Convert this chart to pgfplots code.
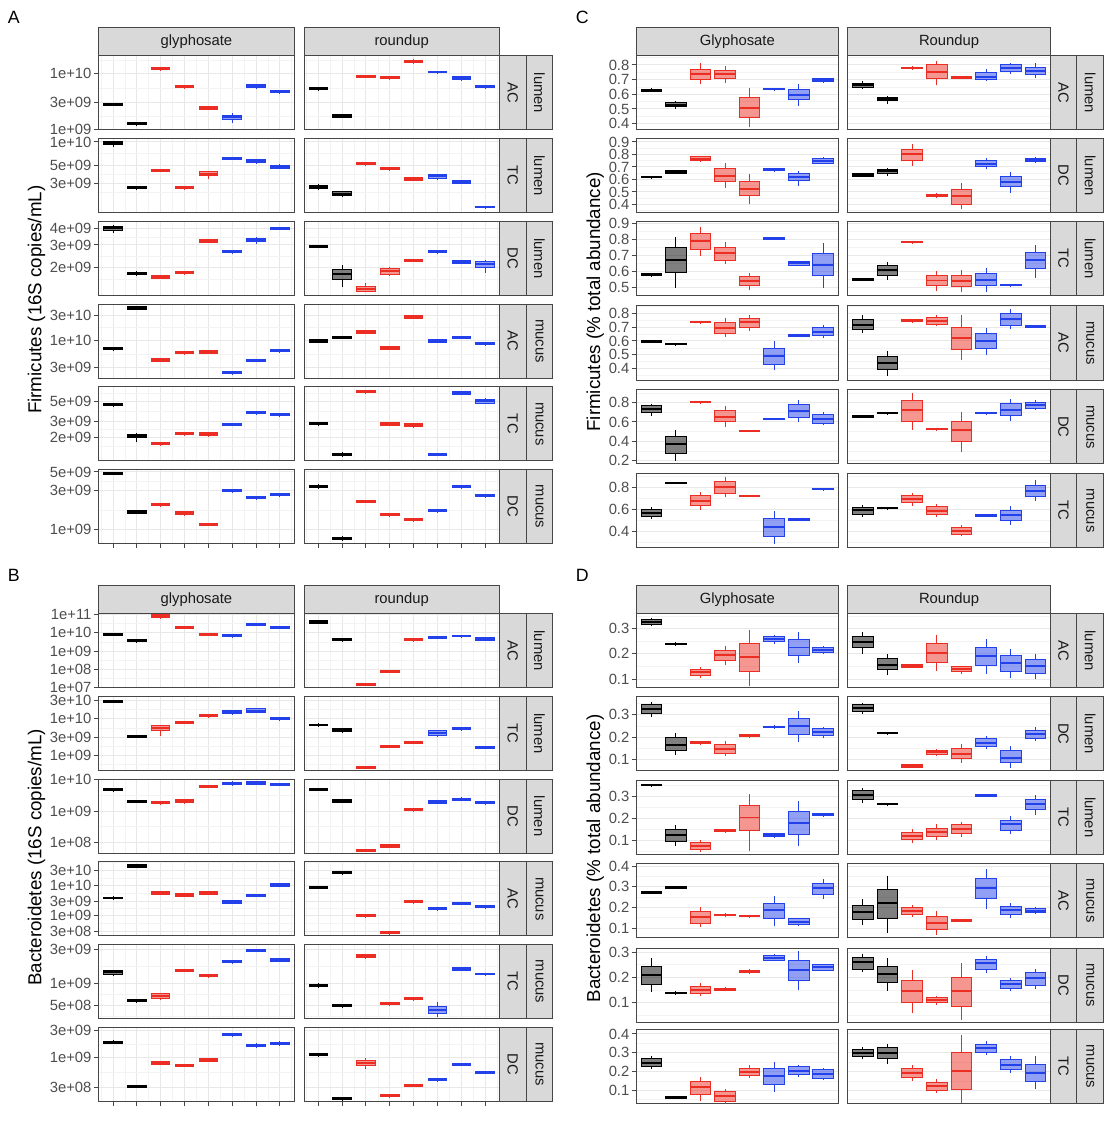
\documentclass[border=0pt]{standalone}
\usepackage{fontspec}
\setmainfont{Liberation Sans}
\usepackage{pgfplots}
\pgfplotsset{compat=1.18}

\definecolor{cK}{RGB}{0,0,0}
\definecolor{cR}{RGB}{235,45,35}
\definecolor{cB}{RGB}{35,65,235}
\colorlet{c1}{cK}\colorlet{c2}{cK}
\colorlet{c3}{cR}\colorlet{c4}{cR}\colorlet{c5}{cR}
\colorlet{c6}{cB}\colorlet{c7}{cB}\colorlet{c8}{cB}
\definecolor{gborder}{RGB}{70,70,70}
\definecolor{gstrip}{RGB}{217,217,217}
\definecolor{gtext}{RGB}{77,77,77}
\definecolor{ggrid}{RGB}{232,232,232}
\definecolor{ggridm}{RGB}{243,243,243}

\tikzset{
  strip/.style={draw=gborder, fill=gstrip, line width=0.5pt},
  striptext/.style={font=\fontsize{7.5}{8}\selectfont, text=black!90, inner sep=0pt},
}

% half width of a box, in category units
\def\bxw{0.39}
% one box: position, lower whisker, lower quartile, median, upper quartile, upper whisker
\newcommand\bx[6]{%
  \pgfmathsetmacro\bxl{#1-\bxw}\pgfmathsetmacro\bxr{#1+\bxw}%
  \addplot[draw=c#1,mark=none,line width=0.5pt] coordinates {(#1,#2) (#1,#3)};
  \addplot[draw=c#1,mark=none,line width=0.5pt] coordinates {(#1,#5) (#1,#6)};
  \addplot[draw=c#1,fill=c#1,fill opacity=0.5,mark=none,line width=0.5pt] coordinates {(\bxl,#3) (\bxr,#3) (\bxr,#5) (\bxl,#5)} --cycle;
  \addplot[draw=c#1,mark=none,line width=1pt] coordinates {(\bxl,#4) (\bxr,#4)};}

% log panel: row options, extra options, left (pt), top (pt), width (pt), boxes
\newcommand\lfacet[6]{\begin{axis}[ymode=log,
  scale only axis, anchor=north west, height=37.5pt,
  xmin=0.4, xmax=8.6, xtick={1,...,8}, xticklabels={}, xtick style={draw=none},
  ytick pos=left, tick align=outside, major tick length=2.5pt, minor tick length=0pt,
  axis line style={draw=gborder,line width=0.5pt}, ytick style={draw=gborder,line width=0.5pt},
  major grid style={draw=ggrid,line width=0.5pt}, minor grid style={draw=ggridm,line width=0.3pt},
  tick label style={font=\fontsize{7.5}{8}\selectfont,text=gtext}, yticklabel style={inner sep=1pt},
  xmajorgrids, ymajorgrids, xminorgrids, yminorgrids, minor xtick={0.5,1.5,...,8.5},
  #1, #2, at={(#3pt,-#4pt)}, width=#5pt]#6\end{axis}}
% linear panel: same arguments
\newcommand\nfacet[6]{\begin{axis}[
  scale only axis, anchor=north west, height=37.5pt,
  xmin=0.4, xmax=8.6, xtick={1,...,8}, xticklabels={}, xtick style={draw=none},
  ytick pos=left, tick align=outside, major tick length=2.5pt, minor tick length=0pt,
  axis line style={draw=gborder,line width=0.5pt}, ytick style={draw=gborder,line width=0.5pt},
  major grid style={draw=ggrid,line width=0.5pt}, minor grid style={draw=ggridm,line width=0.3pt},
  tick label style={font=\fontsize{7.5}{8}\selectfont,text=gtext}, yticklabel style={inner sep=1pt},
  ymajorgrids, yminorgrids,
  #1, #2, at={(#3pt,-#4pt)}, width=#5pt]#6\end{axis}}

% header strip: left, right, top, label
\newcommand\hst[4]{%
  \draw[strip] (#1pt,-#3pt) rectangle (#2pt,{-(#3+14.2)*1pt});
  \node[striptext] at ({(#1+#2)/2*1pt},{-(#3+7.1)*1pt}) {#4};}
% two side strips: x0, x1, x2, top, inner label, outer label
\newcommand\sst[6]{%
  \draw[strip] (#1pt,-#4pt) rectangle (#2pt,{-(#4+37.5)*1pt});
  \draw[strip] (#2pt,-#4pt) rectangle (#3pt,{-(#4+37.5)*1pt});
  \node[striptext,rotate=-90] at ({(#1+#2)/2*1pt},{-(#4+18.75)*1pt}) {#5};
  \node[striptext,rotate=-90] at ({(#2+#3)/2*1pt},{-(#4+18.75)*1pt}) {#6};}

\begin{document}
\begin{tikzpicture}
\path (0pt,0pt) rectangle (561pt,-559pt);

% ===================== A: Firmicutes (16S copies/mL) =====================
\lfacet{ymin=9.73e8,ymax=2.07e10,ytick={1e9,3e9,1e10},yticklabels={1e+09,3e+09,1e+10},minor ytick={1.73e9,5.48e9,1.73e10}}{}{50}{28.35}{99}{
\bx{1}{2.62e9}{2.68e9}{2.79e9}{2.91e9}{2.97e9}
\bx{2}{1.15e9}{1.23e9}{1.28e9}{1.33e9}{1.36e9}
\bx{3}{1.16e10}{1.18e10}{1.23e10}{1.28e10}{1.31e10}
\bx{4}{5.45e9}{5.55e9}{5.78e9}{6.02e9}{6.13e9}
\bx{5}{2.22e9}{2.27e9}{2.40e9}{2.53e9}{2.60e9}
\bx{6}{1.28e9}{1.49e9}{1.64e9}{1.80e9}{1.93e9}
\bx{7}{5.20e9}{5.55e9}{5.94e9}{6.36e9}{6.60e9}
\bx{8}{4.45e9}{4.52e9}{4.71e9}{4.91e9}{4.98e9}}
\lfacet{ymin=9.73e8,ymax=2.07e10,ytick={1e9,3e9,1e10},minor ytick={1.73e9,5.48e9,1.73e10}}{yticklabels={},ytick style={draw=none}}{154}{28.35}{99}{
\bx{1}{5.00e9}{5.10e9}{5.32e9}{5.54e9}{5.65e9}
\bx{2}{1.62e9}{1.66e9}{1.75e9}{1.85e9}{1.90e9}
\bx{3}{8.45e9}{8.60e9}{8.96e9}{9.33e9}{9.50e9}
\bx{4}{8.00e9}{8.15e9}{8.49e9}{8.85e9}{9.00e9}
\bx{5}{1.53e10}{1.57e10}{1.66e10}{1.75e10}{1.80e10}
\bx{6}{1.01e10}{1.03e10}{1.07e10}{1.11e10}{1.13e10}
\bx{7}{7.60e9}{7.82e9}{8.37e9}{8.96e9}{9.20e9}
\bx{8}{5.45e9}{5.55e9}{5.78e9}{6.02e9}{6.13e9}}
\lfacet{ymin=1.26e9,ymax=1.10e10,ytick={3e9,5e9,1e10},yticklabels={3e+09,5e+09,1e+10},minor ytick={2.32e9,3.87e9,7.07e9}}{}{50}{70.25}{99}{
\bx{1}{8.65e9}{9.26e9}{9.71e9}{1.02e10}{1.04e10}
\bx{2}{2.49e9}{2.53e9}{2.60e9}{2.68e9}{2.72e9}
\bx{3}{4.15e9}{4.21e9}{4.33e9}{4.46e9}{4.52e9}
\bx{4}{2.49e9}{2.53e9}{2.60e9}{2.68e9}{2.72e9}
\bx{5}{3.40e9}{3.71e9}{3.93e9}{4.16e9}{4.25e9}
\bx{6}{5.92e9}{6.00e9}{6.18e9}{6.36e9}{6.45e9}
\bx{7}{5.30e9}{5.45e9}{5.72e9}{6.00e9}{6.15e9}
\bx{8}{4.50e9}{4.62e9}{4.85e9}{5.09e9}{5.20e9}}
\lfacet{ymin=1.26e9,ymax=1.10e10,ytick={3e9,5e9,1e10},minor ytick={2.32e9,3.87e9,7.07e9}}{yticklabels={},ytick style={draw=none}}{154}{70.25}{99}{
\bx{1}{2.45e9}{2.55e9}{2.67e9}{2.80e9}{2.90e9}
\bx{2}{2.00e9}{2.08e9}{2.20e9}{2.33e9}{2.40e9}
\bx{3}{5.03e9}{5.10e9}{5.25e9}{5.40e9}{5.48e9}
\bx{4}{4.35e9}{4.41e9}{4.54e9}{4.67e9}{4.74e9}
\bx{5}{3.18e9}{3.24e9}{3.37e9}{3.50e9}{3.57e9}
\bx{6}{3.30e9}{3.47e9}{3.64e9}{3.82e9}{3.92e9}
\bx{7}{2.92e9}{2.97e9}{3.09e9}{3.21e9}{3.27e9}
\bx{8}{1.43e9}{1.45e9}{1.49e9}{1.53e9}{1.55e9}}
\lfacet{ymin=1.22e9,ymax=4.57e9,ytick={2e9,3e9,4e9},yticklabels={2e+09,3e+09,4e+09},minor ytick={1.63e9,2.45e9,3.46e9}}{}{50}{112.15}{99}{
\bx{1}{3.73e9}{3.91e9}{4.05e9}{4.20e9}{4.27e9}
\bx{2}{1.74e9}{1.76e9}{1.80e9}{1.84e9}{1.88e9}
\bx{3}{1.64e9}{1.66e9}{1.70e9}{1.74e9}{1.76e9}
\bx{4}{1.78e9}{1.80e9}{1.83e9}{1.86e9}{1.88e9}
\bx{5}{3.13e9}{3.16e9}{3.22e9}{3.28e9}{3.31e9}
\bx{6}{2.59e9}{2.62e9}{2.67e9}{2.72e9}{2.75e9}
\bx{7}{3.05e9}{3.18e9}{3.28e9}{3.38e9}{3.45e9}
\bx{8}{3.94e9}{3.98e9}{4.05e9}{4.12e9}{4.16e9}}
\lfacet{ymin=1.22e9,ymax=4.57e9,ytick={2e9,3e9,4e9},minor ytick={1.63e9,2.45e9,3.46e9}}{yticklabels={},ytick style={draw=none}}{154}{112.15}{99}{
\bx{1}{2.84e9}{2.87e9}{2.92e9}{2.97e9}{3.00e9}
\bx{2}{1.43e9}{1.63e9}{1.78e9}{1.94e9}{2.08e9}
\bx{3}{1.29e9}{1.31e9}{1.36e9}{1.42e9}{1.51e9}
\bx{4}{1.72e9}{1.78e9}{1.87e9}{1.96e9}{2.02e9}
\bx{5}{2.21e9}{2.24e9}{2.28e9}{2.32e9}{2.35e9}
\bx{6}{2.58e9}{2.61e9}{2.66e9}{2.71e9}{2.74e9}
\bx{7}{2.13e9}{2.16e9}{2.21e9}{2.26e9}{2.30e9}
\bx{8}{1.83e9}{2.02e9}{2.13e9}{2.22e9}{2.30e9}}
\lfacet{ymin=1.92e9,ymax=4.84e10,ytick={3e9,1e10,3e10},yticklabels={3e+09,1e+10,3e+10},minor ytick={5.48e9,1.73e10}}{}{50}{154.05}{99}{
\bx{1}{6.50e9}{6.62e9}{6.91e9}{7.21e9}{7.35e9}
\bx{2}{3.75e10}{3.85e10}{4.08e10}{4.32e10}{4.45e10}
\bx{3}{3.88e9}{3.97e9}{4.20e9}{4.45e9}{4.55e9}
\bx{4}{5.38e9}{5.50e9}{5.82e9}{6.16e9}{6.30e9}
\bx{5}{5.55e9}{5.66e9}{5.99e9}{6.34e9}{6.50e9}
\bx{6}{2.28e9}{2.32e9}{2.42e9}{2.53e9}{2.58e9}
\bx{7}{3.90e9}{3.97e9}{4.14e9}{4.32e9}{4.42e9}
\bx{8}{5.95e9}{6.07e9}{6.34e9}{6.62e9}{6.80e9}}
\lfacet{ymin=1.92e9,ymax=4.84e10,ytick={3e9,1e10,3e10},minor ytick={5.48e9,1.73e10}}{yticklabels={},ytick style={draw=none}}{154}{154.05}{99}{
\bx{1}{8.98e9}{9.18e9}{9.72e9}{1.03e10}{1.05e10}
\bx{2}{1.07e10}{1.09e10}{1.14e10}{1.19e10}{1.22e10}
\bx{3}{1.34e10}{1.37e10}{1.45e10}{1.54e10}{1.57e10}
\bx{4}{6.66e9}{6.81e9}{7.21e9}{7.64e9}{7.80e9}
\bx{5}{2.53e10}{2.59e10}{2.74e10}{2.90e10}{2.97e10}
\bx{6}{9.07e9}{9.27e9}{9.82e9}{1.04e10}{1.06e10}
\bx{7}{1.08e10}{1.10e10}{1.15e10}{1.20e10}{1.23e10}
\bx{8}{8.00e9}{8.19e9}{8.55e9}{8.93e9}{9.10e9}}
\lfacet{ymin=1.12e9,ymax=7.23e9,ytick={2e9,3e9,5e9},yticklabels={2e+09,3e+09,5e+09},minor ytick={1.63e9,2.45e9,3.87e9,6.12e9}}{}{50}{195.95}{99}{
\bx{1}{4.44e9}{4.50e9}{4.61e9}{4.73e9}{4.79e9}
\bx{2}{1.80e9}{2.00e9}{2.10e9}{2.20e9}{2.25e9}
\bx{3}{1.66e9}{1.68e9}{1.72e9}{1.76e9}{1.78e9}
\bx{4}{2.12e9}{2.15e9}{2.20e9}{2.26e9}{2.30e9}
\bx{5}{2.07e9}{2.11e9}{2.20e9}{2.29e9}{2.34e9}
\bx{6}{2.71e9}{2.75e9}{2.82e9}{2.89e9}{2.93e9}
\bx{7}{3.64e9}{3.69e9}{3.78e9}{3.87e9}{3.95e9}
\bx{8}{3.43e9}{3.48e9}{3.57e9}{3.66e9}{3.74e9}}
\lfacet{ymin=1.12e9,ymax=7.23e9,ytick={2e9,3e9,5e9},minor ytick={1.63e9,2.45e9,3.87e9,6.12e9}}{yticklabels={},ytick style={draw=none}}{154}{195.95}{99}{
\bx{1}{2.71e9}{2.77e9}{2.86e9}{2.95e9}{3.00e9}
\bx{2}{1.26e9}{1.28e9}{1.32e9}{1.36e9}{1.39e9}
\bx{3}{6.15e9}{6.23e9}{6.39e9}{6.55e9}{6.65e9}
\bx{4}{2.68e9}{2.73e9}{2.82e9}{2.91e9}{2.96e9}
\bx{5}{2.56e9}{2.64e9}{2.75e9}{2.87e9}{2.93e9}
\bx{6}{1.27e9}{1.29e9}{1.32e9}{1.35e9}{1.37e9}
\bx{7}{5.85e9}{5.99e9}{6.19e9}{6.40e9}{6.50e9}
\bx{8}{4.70e9}{4.80e9}{5.00e9}{5.21e9}{5.40e9}}
\lfacet{ymin=6.73e8,ymax=5.35e9,ytick={1e9,3e9,5e9},yticklabels={1e+09,3e+09,5e+09},minor ytick={1.73e9,3.87e9}}{xtick style={draw=gborder,line width=0.5pt},xtick pos=left}{50}{237.85}{99}{
\bx{1}{4.63e9}{4.70e9}{4.83e9}{4.97e9}{5.04e9}
\bx{2}{1.53e9}{1.57e9}{1.63e9}{1.69e9}{1.72e9}
\bx{3}{1.90e9}{1.94e9}{2.01e9}{2.08e9}{2.12e9}
\bx{4}{1.48e9}{1.51e9}{1.57e9}{1.63e9}{1.66e9}
\bx{5}{1.11e9}{1.13e9}{1.16e9}{1.19e9}{1.21e9}
\bx{6}{2.82e9}{2.86e9}{2.94e9}{3.02e9}{3.06e9}
\bx{7}{2.32e9}{2.35e9}{2.42e9}{2.49e9}{2.52e9}
\bx{8}{2.52e9}{2.56e9}{2.63e9}{2.70e9}{2.74e9}}
\lfacet{ymin=6.73e8,ymax=5.35e9,ytick={1e9,3e9,5e9},minor ytick={1.73e9,3.87e9}}{yticklabels={},ytick style={draw=none},xtick style={draw=gborder,line width=0.5pt},xtick pos=left}{154}{237.85}{99}{
\bx{1}{3.16e9}{3.22e9}{3.34e9}{3.46e9}{3.52e9}
\bx{2}{7.30e8}{7.45e8}{7.73e8}{8.02e8}{8.40e8}
\bx{3}{2.10e9}{2.13e9}{2.19e9}{2.25e9}{2.29e9}
\bx{4}{1.45e9}{1.47e9}{1.51e9}{1.55e9}{1.58e9}
\bx{5}{1.26e9}{1.28e9}{1.32e9}{1.36e9}{1.38e9}
\bx{6}{1.60e9}{1.63e9}{1.69e9}{1.75e9}{1.79e9}
\bx{7}{3.17e9}{3.22e9}{3.31e9}{3.40e9}{3.46e9}
\bx{8}{2.47e9}{2.51e9}{2.58e9}{2.65e9}{2.69e9}}

% ===================== B: Bacteroidetes (16S copies/mL) =====================
\lfacet{ymin=9.9e6,ymax=1.13e11,ytick={1e7,1e8,1e9,1e10,1e11},yticklabels={1e+07,1e+08,1e+09,1e+10,1e+11},minor ytick={3.16e7,3.16e8,3.16e9,3.16e10}}{}{50}{310.85}{99}{
\bx{1}{6.9e9}{7.33e9}{8.30e9}{9.40e9}{1.00e10}
\bx{2}{3.0e9}{3.20e9}{3.62e9}{4.10e9}{4.35e9}
\bx{3}{6.4e10}{6.89e10}{8.13e10}{9.59e10}{1.02e11}
\bx{4}{1.65e10}{1.75e10}{1.98e10}{2.24e10}{2.38e10}
\bx{5}{6.9e9}{7.33e9}{8.30e9}{9.40e9}{1.00e10}
\bx{6}{5.85e9}{6.21e9}{7.03e9}{7.96e9}{8.45e9}
\bx{7}{2.40e10}{2.54e10}{2.88e10}{3.26e10}{3.46e10}
\bx{8}{1.72e10}{1.83e10}{2.07e10}{2.34e10}{2.49e10}}
\lfacet{ymin=9.9e6,ymax=1.13e11,ytick={1e7,1e8,1e9,1e10,1e11},minor ytick={3.16e7,3.16e8,3.16e9,3.16e10}}{yticklabels={},ytick style={draw=none}}{154}{310.85}{99}{
\bx{1}{3.2e10}{3.41e10}{4.02e10}{4.74e10}{5.0e10}
\bx{2}{3.4e9}{3.62e9}{4.27e9}{5.04e9}{5.3e9}
\bx{3}{1.26e7}{1.33e7}{1.51e7}{1.71e7}{1.81e7}
\bx{4}{6.35e7}{6.75e7}{7.64e7}{8.65e7}{9.2e7}
\bx{5}{3.4e9}{3.62e9}{4.27e9}{5.04e9}{5.3e9}
\bx{6}{4.75e9}{5.04e9}{5.71e9}{6.46e9}{6.86e9}
\bx{7}{5.6e9}{5.95e9}{6.74e9}{7.63e9}{8.1e9}
\bx{8}{3.7e9}{3.94e9}{4.65e9}{5.49e9}{5.8e9}}
\lfacet{ymin=4.0e8,ymax=3.92e10,ytick={1e9,3e9,1e10,3e10},yticklabels={1e+09,3e+09,1e+10,3e+10},minor ytick={5.77e8,1.73e9,5.48e9,1.73e10}}{}{50}{352.75}{99}{
\bx{1}{2.62e10}{2.71e10}{2.88e10}{3.06e10}{3.16e10}
\bx{2}{3.04e9}{3.13e9}{3.33e9}{3.54e9}{3.65e9}
\bx{3}{3.40e9}{4.61e9}{5.43e9}{6.39e9}{6.70e9}
\bx{4}{7.30e9}{7.53e9}{8.00e9}{8.50e9}{8.77e9}
\bx{5}{1.07e10}{1.11e10}{1.20e10}{1.30e10}{1.35e10}
\bx{6}{1.27e10}{1.33e10}{1.47e10}{1.63e10}{1.70e10}
\bx{7}{1.40e10}{1.47e10}{1.63e10}{1.80e10}{1.90e10}
\bx{8}{8.95e9}{9.22e9}{9.80e9}{1.04e10}{1.07e10}}
\lfacet{ymin=4.0e8,ymax=3.92e10,ytick={1e9,3e9,1e10,3e10},minor ytick={5.77e8,1.73e9,5.48e9,1.73e10}}{yticklabels={},ytick style={draw=none}}{154}{352.75}{99}{
\bx{1}{6.07e9}{6.26e9}{6.65e9}{7.07e9}{7.30e9}
\bx{2}{4.30e9}{4.42e9}{4.80e9}{5.21e9}{5.40e9}
\bx{3}{4.47e8}{4.61e8}{4.90e8}{5.21e8}{5.37e8}
\bx{4}{1.62e9}{1.67e9}{1.77e9}{1.88e9}{1.94e9}
\bx{5}{2.11e9}{2.17e9}{2.31e9}{2.46e9}{2.53e9}
\bx{6}{3.15e9}{3.47e9}{4.00e9}{4.61e9}{4.90e9}
\bx{7}{4.85e9}{5.00e9}{5.32e9}{5.66e9}{5.83e9}
\bx{8}{1.52e9}{1.56e9}{1.66e9}{1.76e9}{1.82e9}}
\lfacet{ymin=4.58e7,ymax=1.05e10,ytick={1e8,1e9,1e10},yticklabels={1e+08,1e+09,1e+10},minor ytick={3.16e8,3.16e9}}{}{50}{394.65}{99}{
\bx{1}{4.32e9}{4.48e9}{4.82e9}{5.19e9}{5.38e9}
\bx{2}{1.84e9}{1.91e9}{2.05e9}{2.21e9}{2.29e9}
\bx{3}{1.62e9}{1.69e9}{1.86e9}{2.05e9}{2.14e9}
\bx{4}{1.78e9}{1.86e9}{2.10e9}{2.37e9}{2.50e9}
\bx{5}{5.64e9}{5.85e9}{6.29e9}{6.77e9}{7.02e9}
\bx{6}{6.70e9}{6.94e9}{7.66e9}{8.45e9}{8.80e9}
\bx{7}{6.85e9}{7.10e9}{7.83e9}{8.64e9}{9.00e9}
\bx{8}{6.37e9}{6.61e9}{7.11e9}{7.65e9}{7.93e9}}
\lfacet{ymin=4.58e7,ymax=1.05e10,ytick={1e8,1e9,1e10},minor ytick={3.16e8,3.16e9}}{yticklabels={},ytick style={draw=none}}{154}{394.65}{99}{
\bx{1}{4.53e9}{4.70e9}{5.06e9}{5.44e9}{5.65e9}
\bx{2}{1.87e9}{1.95e9}{2.15e9}{2.37e9}{2.47e9}
\bx{3}{5.11e7}{5.31e7}{5.71e7}{6.14e7}{6.38e7}
\bx{4}{6.80e7}{7.11e7}{7.84e7}{8.65e7}{9.00e7}
\bx{5}{9.80e8}{1.01e9}{1.09e9}{1.17e9}{1.22e9}
\bx{6}{1.74e9}{1.81e9}{2.00e9}{2.21e9}{2.30e9}
\bx{7}{2.18e9}{2.26e9}{2.43e9}{2.61e9}{2.72e9}
\bx{8}{1.62e9}{1.69e9}{1.86e9}{2.05e9}{2.14e9}}
\lfacet{ymin=2.21e8,ymax=5.8e10,ytick={3e8,1e9,3e9,1e10,3e10},yticklabels={3e+08,1e+09,3e+09,1e+10,3e+10},minor ytick={5.48e8,1.73e9,5.48e9,1.73e10,5.48e10}}{}{50}{436.55}{99}{
\bx{1}{3.41e9}{3.54e9}{3.81e9}{4.10e9}{4.26e9}
\bx{2}{3.63e10}{3.81e10}{4.21e10}{4.65e10}{4.88e10}
\bx{3}{4.78e9}{5.00e9}{5.52e9}{6.09e9}{6.37e9}
\bx{4}{4.22e9}{4.42e9}{4.88e9}{5.39e9}{5.63e9}
\bx{5}{4.90e9}{5.13e9}{5.66e9}{6.25e9}{6.53e9}
\bx{6}{2.45e9}{2.56e9}{2.83e9}{3.12e9}{3.27e9}
\bx{7}{4.26e9}{4.42e9}{4.76e9}{5.13e9}{5.32e9}
\bx{8}{8.67e9}{9.06e9}{1.00e10}{1.10e10}{1.15e10}}
\lfacet{ymin=2.21e8,ymax=5.8e10,ytick={3e8,1e9,3e9,1e10,3e10},minor ytick={5.48e8,1.73e9,5.48e9,1.73e10,5.48e10}}{yticklabels={},ytick style={draw=none}}{154}{436.55}{99}{
\bx{1}{7.52e9}{7.81e9}{8.41e9}{9.06e9}{9.40e9}
\bx{2}{2.29e10}{2.38e10}{2.56e10}{2.76e10}{2.86e10}
\bx{3}{8.95e8}{9.29e8}{1.00e9}{1.08e9}{1.12e9}
\bx{4}{2.53e8}{2.63e8}{2.83e8}{3.05e8}{3.16e8}
\bx{5}{2.52e9}{2.63e9}{2.90e9}{3.20e9}{3.35e9}
\bx{6}{1.50e9}{1.57e9}{1.73e9}{1.91e9}{2.00e9}
\bx{7}{2.29e9}{2.38e9}{2.56e9}{2.76e9}{2.86e9}
\bx{8}{1.74e9}{1.81e9}{1.95e9}{2.10e9}{2.18e9}}
\lfacet{ymin=3.3e8,ymax=3.48e9,ytick={5e8,1e9,3e9},yticklabels={5e+08,1e+09,3e+09},minor ytick={3.54e8,7.07e8,1.73e9}}{}{50}{478.45}{99}{
\bx{1}{1.29e9}{1.36e9}{1.43e9}{1.51e9}{1.55e9}
\bx{2}{5.56e8}{5.65e8}{5.83e8}{6.02e8}{6.12e8}
\bx{3}{5.90e8}{6.22e8}{6.70e8}{7.22e8}{7.40e8}
\bx{4}{1.47e9}{1.49e9}{1.54e9}{1.59e9}{1.62e9}
\bx{5}{1.21e9}{1.24e9}{1.29e9}{1.35e9}{1.38e9}
\bx{6}{1.92e9}{1.95e9}{2.01e9}{2.07e9}{2.12e9}
\bx{7}{2.77e9}{2.81e9}{2.90e9}{2.99e9}{3.04e9}
\bx{8}{2.00e9}{2.05e9}{2.14e9}{2.23e9}{2.28e9}}
\lfacet{ymin=3.3e8,ymax=3.48e9,ytick={5e8,1e9,3e9},minor ytick={3.54e8,7.07e8,1.73e9}}{yticklabels={},ytick style={draw=none}}{154}{478.45}{99}{
\bx{1}{8.90e8}{9.10e8}{9.49e8}{9.90e8}{1.02e9}
\bx{2}{4.67e8}{4.77e8}{4.98e8}{5.19e8}{5.30e8}
\bx{3}{2.25e9}{2.30e9}{2.40e9}{2.50e9}{2.56e9}
\bx{4}{5.01e8}{5.09e8}{5.25e8}{5.42e8}{5.50e8}
\bx{5}{5.93e8}{6.03e8}{6.22e8}{6.42e8}{6.52e8}
\bx{6}{3.50e8}{3.91e8}{4.34e8}{4.82e8}{5.50e8}
\bx{7}{1.50e9}{1.54e9}{1.61e9}{1.68e9}{1.72e9}
\bx{8}{1.30e9}{1.32e9}{1.36e9}{1.40e9}{1.42e9}}
\lfacet{ymin=1.71e8,ymax=3.48e9,ytick={3e8,1e9,3e9},yticklabels={3e+08,1e+09,3e+09},minor ytick={5.48e8,1.73e9}}{xtick style={draw=gborder,line width=0.5pt},xtick pos=left}{50}{520.35}{99}{
\bx{1}{1.79e9}{1.83e9}{1.90e9}{1.98e9}{2.04e9}
\bx{2}{2.98e8}{3.04e8}{3.16e8}{3.29e8}{3.36e8}
\bx{3}{7.45e8}{7.65e8}{8.07e8}{8.51e8}{8.75e8}
\bx{4}{6.92e8}{7.06e8}{7.35e8}{7.65e8}{7.80e8}
\bx{5}{8.52e8}{8.75e8}{9.23e8}{9.74e8}{1.00e9}
\bx{6}{2.39e9}{2.45e9}{2.59e9}{2.73e9}{2.80e9}
\bx{7}{1.53e9}{1.57e9}{1.66e9}{1.75e9}{1.80e9}
\bx{8}{1.66e9}{1.71e9}{1.80e9}{1.90e9}{1.95e9}}
\lfacet{ymin=1.71e8,ymax=3.48e9,ytick={3e8,1e9,3e9},minor ytick={5.48e8,1.73e9}}{yticklabels={},ytick style={draw=none},xtick style={draw=gborder,line width=0.5pt},xtick pos=left}{154}{520.35}{99}{
\bx{1}{1.06e9}{1.09e9}{1.13e9}{1.18e9}{1.20e9}
\bx{2}{1.77e8}{1.81e8}{1.88e8}{1.96e8}{2.00e8}
\bx{3}{6.26e8}{7.35e8}{8.18e8}{9.10e8}{9.87e8}
\bx{4}{2.00e8}{2.04e8}{2.12e8}{2.21e8}{2.26e8}
\bx{5}{3.10e8}{3.16e8}{3.29e8}{3.42e8}{3.50e8}
\bx{6}{3.83e8}{3.91e8}{4.07e8}{4.24e8}{4.32e8}
\bx{7}{7.20e8}{7.35e8}{7.65e8}{7.96e8}{8.10e8}
\bx{8}{5.30e8}{5.40e8}{5.62e8}{5.85e8}{5.97e8}}

% relative-abundance panels use slightly wider boxes
\def\bxw{0.42}
% ===================== C: Firmicutes (% total abundance) =====================
\nfacet{ymin=0.357,ymax=0.861,ytick={0.4,0.5,0.6,0.7,0.8},yticklabels={0.4,0.5,0.6,0.7,0.8},minor ytick={0.45,0.55,0.65,0.75,0.85}}{}{322.5}{28.35}{102}{
\bx{1}{0.615}{0.62}{0.625}{0.63}{0.64}
\bx{2}{0.50}{0.52}{0.53}{0.545}{0.555}
\bx{3}{0.67}{0.70}{0.735}{0.77}{0.81}
\bx{4}{0.68}{0.71}{0.735}{0.765}{0.79}
\bx{5}{0.38}{0.44}{0.51}{0.58}{0.64}
\bx{6}{0.625}{0.63}{0.635}{0.64}{0.645}
\bx{7}{0.52}{0.565}{0.595}{0.635}{0.67}
\bx{8}{0.68}{0.685}{0.695}{0.705}{0.71}}
\nfacet{ymin=0.357,ymax=0.861,ytick={0.4,0.5,0.6,0.7,0.8},minor ytick={0.45,0.55,0.65,0.75,0.85}}{yticklabels={},ytick style={draw=none}}{429.5}{28.35}{102.5}{
\bx{1}{0.64}{0.645}{0.66}{0.675}{0.69}
\bx{2}{0.535}{0.555}{0.565}{0.58}{0.59}
\bx{3}{0.77}{0.775}{0.78}{0.785}{0.79}
\bx{4}{0.66}{0.71}{0.755}{0.80}{0.83}
\bx{5}{0.705}{0.71}{0.715}{0.72}{0.725}
\bx{6}{0.69}{0.70}{0.72}{0.75}{0.77}
\bx{7}{0.74}{0.755}{0.78}{0.80}{0.81}
\bx{8}{0.71}{0.735}{0.76}{0.785}{0.81}}
\nfacet{ymin=0.334,ymax=0.926,ytick={0.4,0.5,0.6,0.7,0.8,0.9},yticklabels={0.4,0.5,0.6,0.7,0.8,0.9},minor ytick={0.35,0.45,0.55,0.65,0.75,0.85}}{}{322.5}{70.25}{102}{
\bx{1}{0.61}{0.615}{0.62}{0.625}{0.63}
\bx{2}{0.64}{0.65}{0.66}{0.67}{0.675}
\bx{3}{0.74}{0.75}{0.765}{0.78}{0.79}
\bx{4}{0.53}{0.58}{0.63}{0.69}{0.73}
\bx{5}{0.40}{0.47}{0.52}{0.585}{0.64}
\bx{6}{0.665}{0.67}{0.68}{0.69}{0.695}
\bx{7}{0.55}{0.59}{0.62}{0.65}{0.67}
\bx{8}{0.72}{0.73}{0.745}{0.765}{0.78}}
\nfacet{ymin=0.334,ymax=0.926,ytick={0.4,0.5,0.6,0.7,0.8,0.9},minor ytick={0.35,0.45,0.55,0.65,0.75,0.85}}{yticklabels={},ytick style={draw=none}}{429.5}{70.25}{102.5}{
\bx{1}{0.62}{0.625}{0.635}{0.645}{0.65}
\bx{2}{0.63}{0.65}{0.665}{0.68}{0.69}
\bx{3}{0.71}{0.75}{0.80}{0.84}{0.88}
\bx{4}{0.455}{0.46}{0.47}{0.48}{0.49}
\bx{5}{0.36}{0.40}{0.465}{0.52}{0.57}
\bx{6}{0.68}{0.70}{0.725}{0.75}{0.77}
\bx{7}{0.49}{0.54}{0.58}{0.62}{0.66}
\bx{8}{0.73}{0.745}{0.755}{0.77}{0.78}}
\nfacet{ymin=0.45,ymax=0.91,ytick={0.5,0.6,0.7,0.8,0.9},yticklabels={0.5,0.6,0.7,0.8,0.9},minor ytick={0.55,0.65,0.75,0.85}}{}{322.5}{112.25}{102}{
\bx{1}{0.57}{0.575}{0.58}{0.585}{0.59}
\bx{2}{0.50}{0.596}{0.67}{0.746}{0.816}
\bx{3}{0.696}{0.736}{0.79}{0.836}{0.876}
\bx{4}{0.644}{0.67}{0.714}{0.75}{0.784}
\bx{5}{0.486}{0.51}{0.54}{0.566}{0.59}
\bx{6}{0.795}{0.80}{0.804}{0.81}{0.815}
\bx{7}{0.635}{0.64}{0.65}{0.66}{0.665}
\bx{8}{0.50}{0.574}{0.64}{0.71}{0.78}}
\nfacet{ymin=0.45,ymax=0.91,ytick={0.5,0.6,0.7,0.8,0.9},minor ytick={0.55,0.65,0.75,0.85}}{yticklabels={},ytick style={draw=none}}{429.5}{112.25}{102.5}{
\bx{1}{0.54}{0.545}{0.55}{0.555}{0.56}
\bx{2}{0.55}{0.574}{0.61}{0.64}{0.66}
\bx{3}{0.778}{0.78}{0.784}{0.788}{0.79}
\bx{4}{0.476}{0.51}{0.544}{0.576}{0.604}
\bx{5}{0.47}{0.504}{0.54}{0.576}{0.61}
\bx{6}{0.47}{0.51}{0.55}{0.588}{0.62}
\bx{7}{0.505}{0.51}{0.516}{0.522}{0.525}
\bx{8}{0.56}{0.616}{0.67}{0.72}{0.764}}
\nfacet{ymin=0.318,ymax=0.852,ytick={0.4,0.5,0.6,0.7,0.8},yticklabels={0.4,0.5,0.6,0.7,0.8},minor ytick={0.35,0.45,0.55,0.65,0.75,0.85}}{}{322.5}{155}{102}{
\bx{1}{0.585}{0.59}{0.595}{0.60}{0.605}
\bx{2}{0.57}{0.572}{0.576}{0.58}{0.585}
\bx{3}{0.725}{0.73}{0.736}{0.742}{0.745}
\bx{4}{0.63}{0.654}{0.694}{0.734}{0.765}
\bx{5}{0.67}{0.694}{0.736}{0.76}{0.79}
\bx{6}{0.388}{0.43}{0.49}{0.546}{0.60}
\bx{7}{0.63}{0.635}{0.64}{0.645}{0.65}
\bx{8}{0.623}{0.64}{0.666}{0.694}{0.713}}
\nfacet{ymin=0.318,ymax=0.852,ytick={0.4,0.5,0.6,0.7,0.8},minor ytick={0.35,0.45,0.55,0.65,0.75,0.85}}{yticklabels={},ytick style={draw=none}}{429.5}{155}{102.5}{
\bx{1}{0.654}{0.682}{0.718}{0.758}{0.79}
\bx{2}{0.35}{0.393}{0.442}{0.487}{0.53}
\bx{3}{0.735}{0.74}{0.746}{0.752}{0.755}
\bx{4}{0.705}{0.718}{0.746}{0.77}{0.79}
\bx{5}{0.46}{0.54}{0.62}{0.70}{0.784}
\bx{6}{0.50}{0.546}{0.60}{0.654}{0.694}
\bx{7}{0.683}{0.713}{0.758}{0.80}{0.83}
\bx{8}{0.695}{0.70}{0.706}{0.712}{0.715}}
\nfacet{ymin=0.167,ymax=0.931,ytick={0.2,0.4,0.6,0.8},yticklabels={0.2,0.4,0.6,0.8},minor ytick={0.3,0.5,0.7,0.9}}{}{322.5}{197.5}{102}{
\bx{1}{0.665}{0.70}{0.733}{0.766}{0.79}
\bx{2}{0.20}{0.278}{0.37}{0.446}{0.52}
\bx{3}{0.795}{0.80}{0.807}{0.815}{0.82}
\bx{4}{0.548}{0.60}{0.655}{0.716}{0.763}
\bx{5}{0.50}{0.505}{0.51}{0.515}{0.52}
\bx{6}{0.62}{0.627}{0.632}{0.637}{0.64}
\bx{7}{0.595}{0.65}{0.716}{0.78}{0.83}
\bx{8}{0.564}{0.588}{0.632}{0.672}{0.70}}
\nfacet{ymin=0.167,ymax=0.931,ytick={0.2,0.4,0.6,0.8},minor ytick={0.3,0.5,0.7,0.9}}{yticklabels={},ytick style={draw=none}}{429.5}{197.5}{102.5}{
\bx{1}{0.64}{0.648}{0.655}{0.662}{0.665}
\bx{2}{0.68}{0.685}{0.69}{0.695}{0.70}
\bx{3}{0.52}{0.605}{0.72}{0.817}{0.90}
\bx{4}{0.515}{0.52}{0.527}{0.535}{0.54}
\bx{5}{0.29}{0.396}{0.514}{0.605}{0.706}
\bx{6}{0.68}{0.685}{0.69}{0.695}{0.70}
\bx{7}{0.61}{0.662}{0.72}{0.79}{0.84}
\bx{8}{0.723}{0.74}{0.773}{0.80}{0.824}}
\nfacet{ymin=0.252,ymax=0.927,ytick={0.4,0.6,0.8},yticklabels={0.4,0.6,0.8},minor ytick={0.3,0.5,0.7,0.9}}{}{322.5}{240}{102}{
\bx{1}{0.518}{0.542}{0.569}{0.598}{0.622}
\bx{2}{0.835}{0.84}{0.844}{0.85}{0.855}
\bx{3}{0.60}{0.637}{0.68}{0.726}{0.762}
\bx{4}{0.711}{0.75}{0.809}{0.86}{0.895}
\bx{5}{0.715}{0.72}{0.726}{0.732}{0.735}
\bx{6}{0.29}{0.356}{0.444}{0.519}{0.587}
\bx{7}{0.50}{0.505}{0.51}{0.515}{0.52}
\bx{8}{0.775}{0.78}{0.785}{0.79}{0.795}}
\nfacet{ymin=0.252,ymax=0.927,ytick={0.4,0.6,0.8},minor ytick={0.3,0.5,0.7,0.9}}{yticklabels={},ytick style={draw=none}}{429.5}{240}{102.5}{
\bx{1}{0.533}{0.554}{0.593}{0.622}{0.643}
\bx{2}{0.605}{0.61}{0.613}{0.617}{0.62}
\bx{3}{0.637}{0.661}{0.696}{0.732}{0.756}
\bx{4}{0.533}{0.554}{0.587}{0.628}{0.652}
\bx{5}{0.36}{0.376}{0.408}{0.439}{0.46}
\bx{6}{0.535}{0.542}{0.548}{0.555}{0.56}
\bx{7}{0.46}{0.504}{0.548}{0.593}{0.63}
\bx{8}{0.681}{0.72}{0.77}{0.82}{0.874}}

% ===================== D: Bacteroidetes (% total abundance) =====================
\nfacet{ymin=0.066,ymax=0.359,ytick={0.1,0.2,0.3},yticklabels={0.1,0.2,0.3},minor ytick={0.15,0.25,0.35}}{}{322.5}{310.85}{102}{
\bx{1}{0.31}{0.316}{0.326}{0.336}{0.342}
\bx{2}{0.232}{0.235}{0.238}{0.242}{0.245}
\bx{3}{0.103}{0.113}{0.129}{0.139}{0.149}
\bx{4}{0.155}{0.174}{0.197}{0.214}{0.232}
\bx{5}{0.074}{0.129}{0.186}{0.241}{0.296}
\bx{6}{0.238}{0.247}{0.258}{0.267}{0.276}
\bx{7}{0.164}{0.192}{0.225}{0.258}{0.287}
\bx{8}{0.201}{0.205}{0.215}{0.225}{0.23}}
\nfacet{ymin=0.066,ymax=0.359,ytick={0.1,0.2,0.3},minor ytick={0.15,0.25,0.35}}{yticklabels={},ytick style={draw=none}}{429.5}{310.85}{102.5}{
\bx{1}{0.201}{0.224}{0.247}{0.27}{0.287}
\bx{2}{0.116}{0.136}{0.155}{0.182}{0.201}
\bx{3}{0.142}{0.146}{0.151}{0.156}{0.16}
\bx{4}{0.132}{0.164}{0.205}{0.241}{0.274}
\bx{5}{0.122}{0.129}{0.138}{0.149}{0.153}
\bx{6}{0.122}{0.153}{0.192}{0.225}{0.257}
\bx{7}{0.105}{0.132}{0.162}{0.195}{0.218}
\bx{8}{0.099}{0.122}{0.153}{0.179}{0.201}}
\nfacet{ymin=0.051,ymax=0.38,ytick={0.1,0.2,0.3},yticklabels={0.1,0.2,0.3},minor ytick={0.15,0.25,0.35}}{}{322.5}{353}{102}{
\bx{1}{0.291}{0.306}{0.328}{0.344}{0.359}
\bx{2}{0.122}{0.14}{0.167}{0.199}{0.221}
\bx{3}{0.168}{0.172}{0.177}{0.182}{0.186}
\bx{4}{0.118}{0.128}{0.147}{0.17}{0.184}
\bx{5}{0.197}{0.202}{0.207}{0.212}{0.215}
\bx{6}{0.24}{0.243}{0.247}{0.25}{0.255}
\bx{7}{0.18}{0.211}{0.251}{0.285}{0.315}
\bx{8}{0.197}{0.21}{0.224}{0.239}{0.248}}
\nfacet{ymin=0.051,ymax=0.38,ytick={0.1,0.2,0.3},minor ytick={0.15,0.25,0.35}}{yticklabels={},ytick style={draw=none}}{429.5}{353}{102.5}{
\bx{1}{0.303}{0.315}{0.33}{0.344}{0.354}
\bx{2}{0.213}{0.216}{0.219}{0.222}{0.224}
\bx{3}{0.064}{0.068}{0.073}{0.078}{0.082}
\bx{4}{0.118}{0.125}{0.136}{0.143}{0.15}
\bx{5}{0.085}{0.106}{0.127}{0.15}{0.17}
\bx{6}{0.147}{0.159}{0.177}{0.195}{0.207}
\bx{7}{0.066}{0.088}{0.11}{0.14}{0.162}
\bx{8}{0.184}{0.196}{0.214}{0.229}{0.244}}
\nfacet{ymin=0.036,ymax=0.374,ytick={0.1,0.2,0.3},yticklabels={0.1,0.2,0.3},minor ytick={0.05,0.15,0.25,0.35}}{}{322.5}{395.25}{102}{
\bx{1}{0.345}{0.348}{0.352}{0.356}{0.358}
\bx{2}{0.073}{0.096}{0.122}{0.147}{0.17}
\bx{3}{0.048}{0.059}{0.073}{0.088}{0.103}
\bx{4}{0.137}{0.14}{0.144}{0.148}{0.15}
\bx{5}{0.051}{0.144}{0.204}{0.259}{0.31}
\bx{6}{0.112}{0.118}{0.124}{0.13}{0.134}
\bx{7}{0.073}{0.125}{0.181}{0.233}{0.281}
\bx{8}{0.207}{0.212}{0.217}{0.222}{0.225}}
\nfacet{ymin=0.036,ymax=0.374,ytick={0.1,0.2,0.3},minor ytick={0.05,0.15,0.25,0.35}}{yticklabels={},ytick style={draw=none}}{429.5}{395.25}{102.5}{
\bx{1}{0.27}{0.285}{0.306}{0.325}{0.34}
\bx{2}{0.258}{0.262}{0.264}{0.268}{0.27}
\bx{3}{0.088}{0.103}{0.121}{0.136}{0.152}
\bx{4}{0.103}{0.116}{0.137}{0.155}{0.174}
\bx{5}{0.115}{0.13}{0.15}{0.17}{0.184}
\bx{6}{0.297}{0.30}{0.304}{0.308}{0.31}
\bx{7}{0.128}{0.143}{0.173}{0.192}{0.21}
\bx{8}{0.217}{0.239}{0.264}{0.288}{0.306}}
\nfacet{ymin=0.053,ymax=0.4125,ytick={0.1,0.2,0.3,0.4},yticklabels={0.1,0.2,0.3,0.4},minor ytick={0.15,0.25,0.35}}{}{322.5}{437.5}{102}{
\bx{1}{0.264}{0.268}{0.272}{0.276}{0.28}
\bx{2}{0.29}{0.294}{0.298}{0.302}{0.305}
\bx{3}{0.105}{0.123}{0.155}{0.178}{0.20}
\bx{4}{0.156}{0.16}{0.164}{0.168}{0.171}
\bx{5}{0.15}{0.154}{0.158}{0.162}{0.165}
\bx{6}{0.108}{0.147}{0.189}{0.22}{0.256}
\bx{7}{0.108}{0.116}{0.13}{0.144}{0.15}
\bx{8}{0.24}{0.261}{0.292}{0.314}{0.339}}
\nfacet{ymin=0.053,ymax=0.4125,ytick={0.1,0.2,0.3,0.4},minor ytick={0.15,0.25,0.35}}{yticklabels={},ytick style={draw=none}}{429.5}{437.5}{102.5}{
\bx{1}{0.113}{0.142}{0.178}{0.209}{0.24}
\bx{2}{0.077}{0.144}{0.22}{0.288}{0.353}
\bx{3}{0.155}{0.167}{0.183}{0.20}{0.214}
\bx{4}{0.066}{0.095}{0.123}{0.158}{0.181}
\bx{5}{0.128}{0.132}{0.136}{0.14}{0.143}
\bx{6}{0.194}{0.244}{0.295}{0.342}{0.389}
\bx{7}{0.147}{0.167}{0.186}{0.205}{0.222}
\bx{8}{0.167}{0.173}{0.183}{0.194}{0.202}}
\nfacet{ymin=0.023,ymax=0.316,ytick={0.1,0.2,0.3},yticklabels={0.1,0.2,0.3},minor ytick={0.05,0.15,0.25}}{}{322.5}{480.25}{102}{
\bx{1}{0.143}{0.173}{0.209}{0.243}{0.276}
\bx{2}{0.133}{0.136}{0.139}{0.142}{0.145}
\bx{3}{0.125}{0.136}{0.149}{0.163}{0.176}
\bx{4}{0.145}{0.149}{0.153}{0.157}{0.16}
\bx{5}{0.212}{0.218}{0.223}{0.228}{0.232}
\bx{6}{0.263}{0.267}{0.277}{0.285}{0.292}
\bx{7}{0.149}{0.189}{0.229}{0.267}{0.303}
\bx{8}{0.225}{0.229}{0.24}{0.249}{0.253}}
\nfacet{ymin=0.023,ymax=0.316,ytick={0.1,0.2,0.3},minor ytick={0.05,0.15,0.25}}{yticklabels={},ytick style={draw=none}}{429.5}{480.25}{102.5}{
\bx{1}{0.223}{0.233}{0.26}{0.279}{0.293}
\bx{2}{0.147}{0.18}{0.213}{0.245}{0.276}
\bx{3}{0.059}{0.10}{0.147}{0.189}{0.229}
\bx{4}{0.092}{0.099}{0.109}{0.119}{0.125}
\bx{5}{0.032}{0.085}{0.147}{0.20}{0.256}
\bx{6}{0.219}{0.233}{0.256}{0.272}{0.283}
\bx{7}{0.145}{0.156}{0.172}{0.187}{0.196}
\bx{8}{0.153}{0.169}{0.196}{0.219}{0.233}}
\nfacet{ymin=0.029,ymax=0.424,ytick={0.1,0.2,0.3,0.4},yticklabels={0.1,0.2,0.3,0.4},minor ytick={0.05,0.15,0.25,0.35}}{}{322.5}{521.5}{102}{
\bx{1}{0.215}{0.224}{0.247}{0.269}{0.284}
\bx{2}{0.053}{0.056}{0.06}{0.064}{0.067}
\bx{3}{0.045}{0.078}{0.115}{0.147}{0.173}
\bx{4}{0.029}{0.042}{0.069}{0.093}{0.105}
\bx{5}{0.164}{0.178}{0.196}{0.218}{0.233}
\bx{6}{0.093}{0.133}{0.178}{0.215}{0.251}
\bx{7}{0.173}{0.184}{0.205}{0.224}{0.236}
\bx{8}{0.155}{0.165}{0.187}{0.209}{0.22}}
\nfacet{ymin=0.029,ymax=0.424,ytick={0.1,0.2,0.3,0.4},minor ytick={0.05,0.15,0.25,0.35}}{yticklabels={},ytick style={draw=none}}{429.5}{521.5}{102.5}{
\bx{1}{0.269}{0.282}{0.30}{0.318}{0.333}
\bx{2}{0.242}{0.269}{0.30}{0.329}{0.347}
\bx{3}{0.151}{0.169}{0.193}{0.215}{0.233}
\bx{4}{0.084}{0.10}{0.124}{0.142}{0.16}
\bx{5}{0.03}{0.105}{0.205}{0.30}{0.396}
\bx{6}{0.287}{0.30}{0.324}{0.345}{0.36}
\bx{7}{0.191}{0.209}{0.236}{0.264}{0.282}
\bx{8}{0.105}{0.147}{0.193}{0.236}{0.282}}

% ===================== strips =====================
\hst{50}{149}{14.15}{glyphosate}
\hst{154}{253}{14.15}{roundup}
\hst{50}{149}{296.65}{glyphosate}
\hst{154}{253}{296.65}{roundup}
\hst{322.5}{424.5}{14.15}{Glyphosate}
\hst{429.5}{532}{14.15}{Roundup}
\hst{322.5}{424.5}{296.65}{Glyphosate}
\hst{429.5}{532}{296.65}{Roundup}

\sst{253}{266.5}{280}{28.35}{AC}{lumen}
\sst{253}{266.5}{280}{70.25}{TC}{lumen}
\sst{253}{266.5}{280}{112.15}{DC}{lumen}
\sst{253}{266.5}{280}{154.05}{AC}{mucus}
\sst{253}{266.5}{280}{195.95}{TC}{mucus}
\sst{253}{266.5}{280}{237.85}{DC}{mucus}

\sst{253}{266.5}{280}{310.85}{AC}{lumen}
\sst{253}{266.5}{280}{352.75}{TC}{lumen}
\sst{253}{266.5}{280}{394.65}{DC}{lumen}
\sst{253}{266.5}{280}{436.55}{AC}{mucus}
\sst{253}{266.5}{280}{478.45}{TC}{mucus}
\sst{253}{266.5}{280}{520.35}{DC}{mucus}

\sst{532}{545.5}{559}{28.35}{AC}{lumen}
\sst{532}{545.5}{559}{70.25}{DC}{lumen}
\sst{532}{545.5}{559}{112.25}{TC}{lumen}
\sst{532}{545.5}{559}{155}{AC}{mucus}
\sst{532}{545.5}{559}{197.5}{DC}{mucus}
\sst{532}{545.5}{559}{240}{TC}{mucus}

\sst{532}{545.5}{559}{310.85}{AC}{lumen}
\sst{532}{545.5}{559}{353}{DC}{lumen}
\sst{532}{545.5}{559}{395.25}{TC}{lumen}
\sst{532}{545.5}{559}{437.5}{AC}{mucus}
\sst{532}{545.5}{559}{480.25}{DC}{mucus}
\sst{532}{545.5}{559}{521.5}{TC}{mucus}

% ===================== titles and panel letters =====================
\begin{scope}[every node/.style={font=\fontsize{9.5}{11}\selectfont, text=black, inner sep=0pt}]
\node[rotate=90] at (18.5pt,-151.85pt) {Firmicutes (16S copies/mL)};
\node[rotate=90] at (18.5pt,-434.35pt) {Bacteroidetes (16S copies/mL)};
\node[rotate=90] at (301.5pt,-152.9pt) {Firmicutes (\% total abundance)};
\node[rotate=90] at (301.5pt,-434.9pt) {Bacteroidetes (\% total abundance)};
\end{scope}
\begin{scope}[every node/.style={font=\fontsize{9}{10}\selectfont, text=black, inner sep=0pt}]
\node at (7pt,-9pt) {A};
\node at (7pt,-291.5pt) {B};
\node at (295pt,-9pt) {C};
\node at (295pt,-291.5pt) {D};
\end{scope}
\end{tikzpicture}
\end{document}
